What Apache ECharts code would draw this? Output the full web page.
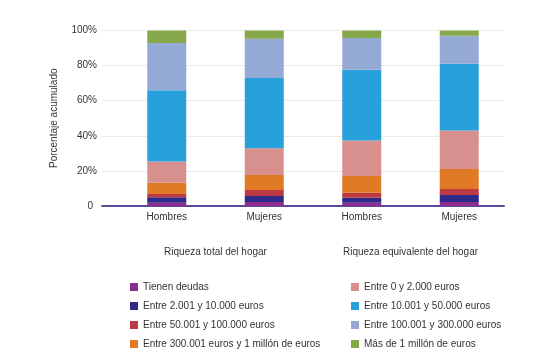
<!DOCTYPE html>
<html>
<head>
<meta charset="utf-8">
<script src="https://cdn.jsdelivr.net/npm/echarts@6/dist/echarts.min.js"></script>
<style>html,body{margin:0;padding:0;background:#fff}#c{width:560px;height:356px}</style>
</head>
<body>
<div id="c"></div>
<script>
var categories = ['Hombres', 'Mujeres', 'Hombres', 'Mujeres'];
var groups = ['Riqueza total del hogar', 'Riqueza equivalente del hogar'];
var yTicks = [0, 20, 40, 60, 80, 100];

// Segment shares (%) per bar, stacked bottom to top in this order
var tienenDeudas   = [1.9, 2.3, 1.9, 2.3];
var e2001_10000    = [3.1, 3.4, 2.8, 4.0];
var e50001_100000  = [1.8, 3.4, 2.9, 3.4];
var e300001_1M     = [6.5, 8.6, 9.5, 11.4];
var e0_2000        = [12.0, 15.2, 20.2, 21.9];
var e10001_50000   = [40.6, 40.0, 40.3, 38.0];
var e100001_300000 = [27.0, 22.4, 18.1, 16.0];
var mas1M          = [7.1, 4.7, 4.3, 3.0];

var seriesNames = [
  'Tienen deudas', 'Entre 2.001 y 10.000 euros', 'Entre 50.001 y 100.000 euros',
  'Entre 300.001 euros y 1 millón de euros', 'Entre 0 y 2.000 euros',
  'Entre 10.001 y 50.000 euros', 'Entre 100.001 y 300.000 euros', 'Más de 1 millón de euros'
];
var seriesData = [tienenDeudas, e2001_10000, e50001_100000, e300001_1M, e0_2000, e10001_50000, e100001_300000, mas1M];
var colors = ['#8E2C90', '#2D2A8A', '#BE3A42', '#E07A26', '#D8908E', '#28A0DB', '#94A9D3', '#87A84A'];

var FONT = '"Liberation Sans", Arial, sans-serif';
var FS = 10;
var TXT = '#333333';

var chart = echarts.init(document.getElementById('c'), null, {renderer: 'canvas'});

var series = seriesNames.map(function (n, i) {
  return {
    name: n, type: 'bar', stack: 'total', xAxisIndex: 1, yAxisIndex: 1,
    barWidth: 39, itemStyle: {color: colors[i]}, data: seriesData[i]
  };
});

chart.setOption({
  animation: false,
  color: colors,
  textStyle: {fontFamily: FONT},
  grid: [
    {left: 102, right: 56, top: 30.5, bottom: 150},
    {left: 118, right: 52, top: 30.5, bottom: 150}
  ],
  xAxis: [
    {gridIndex: 0, type: 'category', data: categories,
     axisLine: {show: true, lineStyle: {color: '#5A4A9E', width: 2}},
     axisTick: {show: false}, axisLabel: {show: false}},
    {gridIndex: 1, type: 'category', data: categories,
     axisLine: {show: false}, axisTick: {show: false},
     axisLabel: {color: TXT, fontSize: FS, fontFamily: FONT, margin: 6}},
    {gridIndex: 1, type: 'category', data: groups, position: 'bottom', offset: 41,
     axisLine: {show: false}, axisTick: {show: false},
     axisLabel: {color: TXT, fontSize: FS, fontFamily: FONT, margin: 0}}
  ],
  yAxis: [
    {gridIndex: 0, type: 'value', min: yTicks[0], max: yTicks[yTicks.length - 1], interval: 20,
     axisLine: {show: false}, axisTick: {show: false},
     splitLine: {show: true, lineStyle: {color: '#EBEBEB', width: 1}},
     axisLabel: {color: TXT, fontSize: FS, fontFamily: FONT, margin: 5,
       formatter: function (v) { return v === 0 ? '{z|0}' : v + '%'; },
       rich: {z: {padding: [0, 4, 0, 0], fontSize: FS, fontFamily: FONT, color: TXT}}},
     name: 'Porcentaje acumulado', nameLocation: 'middle', nameGap: 43,
     nameTextStyle: {color: TXT, fontSize: FS, fontFamily: FONT}},
    {gridIndex: 1, type: 'value', min: 0, max: 100, interval: 20, show: false,
     splitLine: {show: false}}
  ],
  legend: [
    {orient: 'vertical', left: 125, top: 277, height: 79, itemWidth: 8, itemHeight: 8, itemGap: 9,
     icon: 'rect', selectedMode: false,
     textStyle: {color: TXT, fontSize: FS, fontFamily: FONT},
     data: seriesNames.slice(0, 4)},
    {orient: 'vertical', left: 346, top: 277, height: 79, itemWidth: 8, itemHeight: 8, itemGap: 9,
     icon: 'rect', selectedMode: false,
     textStyle: {color: TXT, fontSize: FS, fontFamily: FONT},
     data: seriesNames.slice(4, 8)}
  ],
  series: series
});
</script>
</body>
</html>
